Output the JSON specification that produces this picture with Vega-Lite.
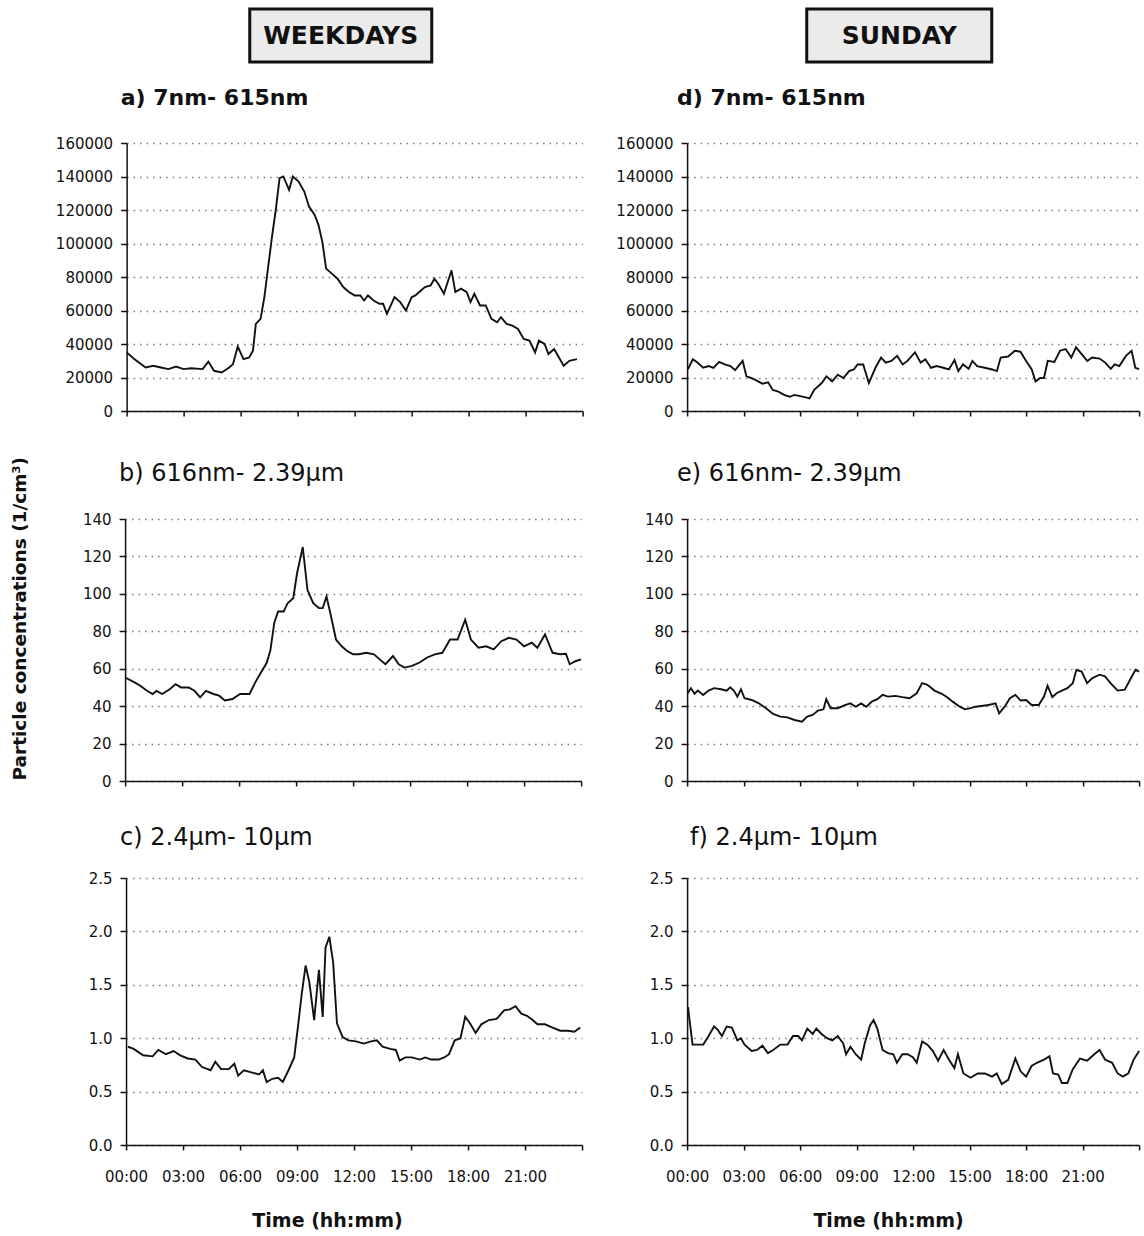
{
"$schema": "https://vega.github.io/schema/vega-lite/v6.json",
"padding": {"left": 10, "top": 7, "right": 0, "bottom": 0},
"background": "white",
"spacing": 27,
"config": {
  "view": {"stroke": null},
  "font": "DejaVu Sans",
  "axis": {"labelFont": "DejaVu Sans", "labelFontSize": 15, "labelColor": "#111", "domainColor": "#111", "domainWidth": 1.5, "tickColor": "#111", "tickWidth": 1.5, "gridColor": "#7a7a7a", "gridDash": [1.5, 5], "gridWidth": 1.5, "titleFont": "DejaVu Sans", "titleColor": "#111", "labelFlush": false, "labelOverlap": false},
  "title": {"font": "DejaVu Sans", "color": "#111"},
  "line": {"color": "#111", "strokeWidth": 1.9}
},
"datasets": {
  "a": [{"h":0,"v":35000},{"h":0.4,"v":31000},{"h":1,"v":26000},{"h":1.4,"v":27000},{"h":1.8,"v":26000},{"h":2.2,"v":25000},{"h":2.6,"v":26500},{"h":3,"v":25000},{"h":3.4,"v":25500},{"h":4,"v":25000},{"h":4.3,"v":29500},{"h":4.6,"v":24000},{"h":5,"v":23000},{"h":5.4,"v":26000},{"h":5.6,"v":28000},{"h":5.85,"v":38500},{"h":6.15,"v":31000},{"h":6.45,"v":32000},{"h":6.65,"v":36000},{"h":6.8,"v":52000},{"h":7.05,"v":55000},{"h":7.25,"v":68000},{"h":7.45,"v":86000},{"h":7.65,"v":104000},{"h":7.85,"v":120000},{"h":8.05,"v":139000},{"h":8.25,"v":140000},{"h":8.55,"v":132000},{"h":8.75,"v":140000},{"h":9.05,"v":137000},{"h":9.35,"v":131000},{"h":9.6,"v":122000},{"h":9.9,"v":117000},{"h":10.1,"v":111000},{"h":10.3,"v":101000},{"h":10.5,"v":85000},{"h":10.8,"v":82000},{"h":11.1,"v":79000},{"h":11.4,"v":74000},{"h":11.7,"v":71000},{"h":12,"v":69000},{"h":12.3,"v":69000},{"h":12.5,"v":66000},{"h":12.7,"v":69000},{"h":13,"v":66000},{"h":13.3,"v":64000},{"h":13.5,"v":64000},{"h":13.7,"v":58000},{"h":14.1,"v":68000},{"h":14.4,"v":65000},{"h":14.7,"v":60000},{"h":15,"v":68000},{"h":15.2,"v":69000},{"h":15.4,"v":71000},{"h":15.7,"v":74000},{"h":16,"v":75000},{"h":16.2,"v":79000},{"h":16.4,"v":76000},{"h":16.7,"v":70000},{"h":16.9,"v":77000},{"h":17.1,"v":84000},{"h":17.3,"v":71000},{"h":17.6,"v":73000},{"h":17.9,"v":71000},{"h":18.1,"v":65000},{"h":18.3,"v":70000},{"h":18.6,"v":63000},{"h":18.9,"v":63000},{"h":19.2,"v":55000},{"h":19.5,"v":53000},{"h":19.7,"v":56000},{"h":20,"v":52000},{"h":20.3,"v":51000},{"h":20.6,"v":49000},{"h":20.9,"v":43000},{"h":21.2,"v":42000},{"h":21.5,"v":35000},{"h":21.7,"v":42000},{"h":22,"v":40000},{"h":22.2,"v":34000},{"h":22.5,"v":37000},{"h":22.8,"v":31000},{"h":23,"v":27000},{"h":23.3,"v":30000},{"h":23.7,"v":31000}],
  "b": [{"h":0,"v":55.3},{"h":0.5,"v":52.7},{"h":0.8,"v":50.9},{"h":1.15,"v":48.2},{"h":1.45,"v":46.5},{"h":1.65,"v":48.2},{"h":1.95,"v":46.5},{"h":2.35,"v":49},{"h":2.65,"v":51.8},{"h":2.95,"v":50},{"h":3.35,"v":50},{"h":3.65,"v":48.2},{"h":3.95,"v":44.7},{"h":4.25,"v":48.2},{"h":4.65,"v":46.5},{"h":4.95,"v":45.6},{"h":5.25,"v":43},{"h":5.65,"v":43.8},{"h":6.05,"v":46.5},{"h":6.55,"v":46.5},{"h":6.85,"v":52.7},{"h":7.15,"v":58},{"h":7.45,"v":63},{"h":7.65,"v":70},{"h":7.85,"v":84.5},{"h":8.05,"v":90.6},{"h":8.35,"v":90.6},{"h":8.55,"v":95},{"h":8.85,"v":97.7},{"h":9.05,"v":111},{"h":9.35,"v":125},{"h":9.6,"v":102},{"h":9.9,"v":95},{"h":10.2,"v":92.4},{"h":10.4,"v":92.4},{"h":10.6,"v":98.6},{"h":10.8,"v":89.8},{"h":11.1,"v":75.6},{"h":11.4,"v":72},{"h":11.7,"v":69.4},{"h":12,"v":67.7},{"h":12.3,"v":67.7},{"h":12.7,"v":68.5},{"h":13.1,"v":67.7},{"h":13.4,"v":65},{"h":13.7,"v":62.4},{"h":14.1,"v":66.8},{"h":14.4,"v":62.4},{"h":14.7,"v":60.6},{"h":15.1,"v":61.5},{"h":15.5,"v":63.3},{"h":15.9,"v":66},{"h":16.3,"v":67.7},{"h":16.7,"v":68.5},{"h":17.1,"v":75.6},{"h":17.5,"v":75.6},{"h":17.9,"v":86.2},{"h":18.2,"v":75.6},{"h":18.6,"v":71.2},{"h":19,"v":72},{"h":19.4,"v":70.3},{"h":19.8,"v":74.7},{"h":20.2,"v":76.5},{"h":20.6,"v":75.6},{"h":21,"v":72},{"h":21.4,"v":73.9},{"h":21.7,"v":71.2},{"h":22.1,"v":78.3},{"h":22.5,"v":68.5},{"h":22.9,"v":67.7},{"h":23.2,"v":68},{"h":23.4,"v":62.4},{"h":23.7,"v":64},{"h":24,"v":65}],
  "c": [{"h":0.1,"v":0.92},{"h":0.4,"v":0.9},{"h":0.9,"v":0.84},{"h":1.4,"v":0.83},{"h":1.7,"v":0.89},{"h":2.1,"v":0.85},{"h":2.5,"v":0.88},{"h":2.85,"v":0.84},{"h":3.25,"v":0.81},{"h":3.65,"v":0.8},{"h":4,"v":0.73},{"h":4.45,"v":0.7},{"h":4.7,"v":0.78},{"h":5,"v":0.71},{"h":5.4,"v":0.71},{"h":5.7,"v":0.76},{"h":5.9,"v":0.65},{"h":6.2,"v":0.7},{"h":6.6,"v":0.68},{"h":7,"v":0.66},{"h":7.2,"v":0.7},{"h":7.4,"v":0.59},{"h":7.7,"v":0.62},{"h":8,"v":0.63},{"h":8.25,"v":0.59},{"h":8.55,"v":0.7},{"h":8.85,"v":0.82},{"h":9.05,"v":1.11},{"h":9.25,"v":1.42},{"h":9.45,"v":1.68},{"h":9.65,"v":1.52},{"h":9.9,"v":1.17},{"h":10.15,"v":1.64},{"h":10.35,"v":1.2},{"h":10.5,"v":1.85},{"h":10.7,"v":1.95},{"h":10.9,"v":1.71},{"h":11.1,"v":1.14},{"h":11.4,"v":1.01},{"h":11.7,"v":0.98},{"h":12.1,"v":0.97},{"h":12.5,"v":0.95},{"h":12.9,"v":0.97},{"h":13.2,"v":0.98},{"h":13.5,"v":0.92},{"h":13.9,"v":0.9},{"h":14.2,"v":0.89},{"h":14.4,"v":0.79},{"h":14.7,"v":0.82},{"h":15.05,"v":0.82},{"h":15.45,"v":0.8},{"h":15.75,"v":0.82},{"h":16.05,"v":0.8},{"h":16.45,"v":0.8},{"h":16.75,"v":0.82},{"h":17,"v":0.85},{"h":17.3,"v":0.98},{"h":17.6,"v":1},{"h":17.85,"v":1.2},{"h":18.1,"v":1.14},{"h":18.4,"v":1.05},{"h":18.7,"v":1.13},{"h":19.1,"v":1.17},{"h":19.5,"v":1.18},{"h":19.9,"v":1.26},{"h":20.2,"v":1.27},{"h":20.5,"v":1.3},{"h":20.8,"v":1.23},{"h":21.1,"v":1.21},{"h":21.4,"v":1.17},{"h":21.65,"v":1.13},{"h":22.05,"v":1.13},{"h":22.45,"v":1.1},{"h":22.85,"v":1.07},{"h":23.25,"v":1.07},{"h":23.6,"v":1.06},{"h":23.9,"v":1.1}],
  "d": [{"h":0.05,"v":25000},{"h":0.3,"v":30900},{"h":0.55,"v":28900},{"h":0.85,"v":25800},{"h":1.15,"v":26800},{"h":1.4,"v":25800},{"h":1.7,"v":29300},{"h":2,"v":27800},{"h":2.3,"v":26800},{"h":2.55,"v":24400},{"h":2.95,"v":29900},{"h":3.15,"v":20700},{"h":3.4,"v":19700},{"h":3.7,"v":18100},{"h":4,"v":16300},{"h":4.3,"v":17100},{"h":4.55,"v":12600},{"h":4.85,"v":11600},{"h":5.15,"v":9600},{"h":5.45,"v":8500},{"h":5.7,"v":9600},{"h":6,"v":8900},{"h":6.3,"v":8100},{"h":6.5,"v":7500},{"h":6.75,"v":12600},{"h":7.15,"v":16700},{"h":7.4,"v":20700},{"h":7.7,"v":17700},{"h":8,"v":21700},{"h":8.3,"v":19700},{"h":8.6,"v":23800},{"h":8.85,"v":24800},{"h":9.05,"v":27800},{"h":9.35,"v":27800},{"h":9.65,"v":16700},{"h":10,"v":25800},{"h":10.3,"v":31900},{"h":10.55,"v":28900},{"h":10.85,"v":29900},{"h":11.15,"v":32900},{"h":11.45,"v":27800},{"h":11.7,"v":29900},{"h":12.1,"v":35000},{"h":12.4,"v":28900},{"h":12.65,"v":30900},{"h":12.95,"v":25800},{"h":13.25,"v":26800},{"h":13.6,"v":25800},{"h":13.9,"v":24800},{"h":14.2,"v":30500},{"h":14.4,"v":23800},{"h":14.65,"v":27800},{"h":14.95,"v":25200},{"h":15.15,"v":29900},{"h":15.4,"v":26800},{"h":15.8,"v":25800},{"h":16.2,"v":24800},{"h":16.45,"v":23800},{"h":16.65,"v":31900},{"h":17.05,"v":32500},{"h":17.4,"v":36000},{"h":17.7,"v":35400},{"h":18,"v":29900},{"h":18.3,"v":24800},{"h":18.5,"v":17700},{"h":18.75,"v":19700},{"h":18.95,"v":19700},{"h":19.15,"v":29900},{"h":19.5,"v":29300},{"h":19.8,"v":36000},{"h":20.1,"v":37000},{"h":20.4,"v":31900},{"h":20.65,"v":38000},{"h":20.95,"v":33900},{"h":21.25,"v":29900},{"h":21.5,"v":31900},{"h":21.9,"v":31300},{"h":22.2,"v":28900},{"h":22.5,"v":25200},{"h":22.7,"v":27800},{"h":22.95,"v":26800},{"h":23.3,"v":32900},{"h":23.6,"v":36000},{"h":23.8,"v":25800},{"h":24,"v":25000}],
  "e": [{"h":0.03,"v":46.9},{"h":0.2,"v":49.6},{"h":0.4,"v":46.6},{"h":0.57,"v":48.3},{"h":0.85,"v":46},{"h":1.14,"v":48.3},{"h":1.43,"v":49.6},{"h":1.81,"v":49},{"h":2.1,"v":48.3},{"h":2.29,"v":50.1},{"h":2.48,"v":48.3},{"h":2.67,"v":45},{"h":2.86,"v":49},{"h":3.05,"v":44.2},{"h":3.43,"v":43.3},{"h":3.81,"v":41.5},{"h":4.19,"v":38.9},{"h":4.57,"v":35.8},{"h":4.95,"v":34.4},{"h":5.33,"v":34},{"h":5.71,"v":32.6},{"h":6.1,"v":31.7},{"h":6.38,"v":34.4},{"h":6.67,"v":35.3},{"h":6.95,"v":37.6},{"h":7.24,"v":38.3},{"h":7.39,"v":43.7},{"h":7.62,"v":38.9},{"h":8,"v":38.9},{"h":8.38,"v":40.6},{"h":8.67,"v":41.5},{"h":8.95,"v":39.7},{"h":9.24,"v":41.5},{"h":9.52,"v":39.7},{"h":9.81,"v":42.4},{"h":10.1,"v":43.7},{"h":10.38,"v":46},{"h":10.67,"v":45.1},{"h":11.05,"v":45.5},{"h":11.43,"v":44.8},{"h":11.81,"v":44.2},{"h":12.19,"v":46.9},{"h":12.48,"v":52.3},{"h":12.76,"v":51.4},{"h":13.14,"v":48.3},{"h":13.52,"v":46.6},{"h":13.81,"v":44.8},{"h":14.1,"v":42.4},{"h":14.48,"v":39.7},{"h":14.76,"v":38.3},{"h":15.05,"v":38.9},{"h":15.33,"v":39.7},{"h":15.62,"v":40.1},{"h":16,"v":40.6},{"h":16.38,"v":41.5},{"h":16.57,"v":36.2},{"h":16.86,"v":39.7},{"h":17.14,"v":44.2},{"h":17.43,"v":46},{"h":17.71,"v":43},{"h":18,"v":43.3},{"h":18.29,"v":40.6},{"h":18.67,"v":40.6},{"h":18.95,"v":45.1},{"h":19.14,"v":50.9},{"h":19.39,"v":44.8},{"h":19.62,"v":46.9},{"h":19.9,"v":48.3},{"h":20.19,"v":49.6},{"h":20.48,"v":52.3},{"h":20.67,"v":59.4},{"h":20.95,"v":58.5},{"h":21.24,"v":52.3},{"h":21.52,"v":55},{"h":21.9,"v":56.8},{"h":22.19,"v":55.9},{"h":22.48,"v":52.3},{"h":22.86,"v":48.3},{"h":23.24,"v":48.8},{"h":23.52,"v":54.1},{"h":23.81,"v":59.4},{"h":24,"v":58.5}],
  "f": [{"h":0.05,"v":1.29},{"h":0.13,"v":1.17},{"h":0.29,"v":0.94},{"h":0.57,"v":0.94},{"h":0.86,"v":0.94},{"h":1.14,"v":1.02},{"h":1.43,"v":1.11},{"h":1.62,"v":1.08},{"h":1.85,"v":1.02},{"h":2.1,"v":1.11},{"h":2.38,"v":1.1},{"h":2.67,"v":0.98},{"h":2.86,"v":1},{"h":3.05,"v":0.94},{"h":3.43,"v":0.88},{"h":3.71,"v":0.89},{"h":4,"v":0.93},{"h":4.29,"v":0.86},{"h":4.57,"v":0.89},{"h":4.95,"v":0.94},{"h":5.33,"v":0.94},{"h":5.62,"v":1.02},{"h":5.9,"v":1.02},{"h":6.1,"v":0.98},{"h":6.38,"v":1.09},{"h":6.67,"v":1.04},{"h":6.86,"v":1.09},{"h":7.14,"v":1.04},{"h":7.43,"v":1},{"h":7.71,"v":0.98},{"h":8,"v":1.02},{"h":8.29,"v":0.95},{"h":8.44,"v":0.85},{"h":8.67,"v":0.92},{"h":8.95,"v":0.85},{"h":9.24,"v":0.8},{"h":9.43,"v":0.95},{"h":9.71,"v":1.12},{"h":9.9,"v":1.17},{"h":10.1,"v":1.09},{"h":10.38,"v":0.89},{"h":10.67,"v":0.86},{"h":10.95,"v":0.85},{"h":11.14,"v":0.77},{"h":11.43,"v":0.85},{"h":11.71,"v":0.85},{"h":12,"v":0.82},{"h":12.19,"v":0.77},{"h":12.48,"v":0.97},{"h":12.76,"v":0.94},{"h":13.05,"v":0.88},{"h":13.33,"v":0.79},{"h":13.62,"v":0.89},{"h":13.9,"v":0.8},{"h":14.19,"v":0.72},{"h":14.38,"v":0.85},{"h":14.67,"v":0.67},{"h":15.05,"v":0.63},{"h":15.43,"v":0.67},{"h":15.81,"v":0.67},{"h":16.19,"v":0.64},{"h":16.44,"v":0.67},{"h":16.71,"v":0.57},{"h":17.05,"v":0.61},{"h":17.43,"v":0.81},{"h":17.71,"v":0.69},{"h":18,"v":0.64},{"h":18.29,"v":0.74},{"h":18.57,"v":0.77},{"h":18.95,"v":0.8},{"h":19.24,"v":0.83},{"h":19.43,"v":0.67},{"h":19.71,"v":0.66},{"h":19.9,"v":0.58},{"h":20.19,"v":0.58},{"h":20.48,"v":0.71},{"h":20.86,"v":0.81},{"h":21.24,"v":0.79},{"h":21.62,"v":0.85},{"h":21.9,"v":0.89},{"h":22.19,"v":0.8},{"h":22.57,"v":0.77},{"h":22.86,"v":0.67},{"h":23.14,"v":0.64},{"h":23.43,"v":0.67},{"h":23.71,"v":0.8},{"h":24,"v":0.88}]
},
"hconcat": [
  {
    "title": {"text": "Particle concentrations (1/cm³)", "orient": "left", "anchor": "middle", "fontSize": 18.5, "fontWeight": "bold", "offset": 21},
    "spacing": 23,
    "center": true,
    "vconcat": [
      {"width": 182, "height": 53, "data": {"values": [{"label": "WEEKDAYS"}]},
       "view": {"fill": "#ebebeb", "stroke": "#111", "strokeWidth": 3},
       "mark": {"type": "text", "fontSize": 25, "fontWeight": "bold", "color": "#111"},
       "encoding": {"text": {"field": "label"}, "y": {"field": "label", "type": "nominal", "axis": {"orient": "right", "labels": false, "ticks": false, "domain": false, "grid": false, "title": null, "minExtent": 27, "maxExtent": 27}}}},
      {"width": 456, "height": 268, "data": {"name": "a"},
       "title": {"text": "a) 7nm- 615nm", "anchor": "start", "frame": "group", "fontSize": 22, "fontWeight": "bold", "offset": 9, "baseline": "alphabetic", "dx": -6},
       "mark": "line",
       "encoding": {
         "x": {"field": "h", "type": "quantitative", "scale": {"domain": [0, 24], "nice": false}, "axis": {"values": [0,3,6,9,12,15,18,21,24], "labels": false, "grid": false, "title": null, "tickSize": 5, "minExtent": 28}},
         "y": {"field": "v", "type": "quantitative", "scale": {"domain": [0, 160000], "nice": false}, "axis": {"values": [0,20000,40000,60000,80000,100000,120000,140000,160000], "format": "d", "grid": true, "tickSize": 6, "labelPadding": 8, "minExtent": 75, "title": null}}}},
      {"width": 456, "height": 262, "data": {"name": "b"},
       "title": {"text": "b) 616nm- 2.39µm", "anchor": "start", "frame": "group", "fontSize": 24, "fontWeight": "normal", "offset": 7, "baseline": "alphabetic", "dx": -6},
       "mark": "line",
       "encoding": {
         "x": {"field": "h", "type": "quantitative", "scale": {"domain": [0, 24], "nice": false}, "axis": {"values": [0,3,6,9,12,15,18,21,24], "labels": false, "grid": false, "title": null, "tickSize": 5, "minExtent": 22}},
         "y": {"field": "v", "type": "quantitative", "scale": {"domain": [0, 140], "nice": false}, "axis": {"values": [0,20,40,60,80,100,120,140], "grid": true, "tickSize": 6, "labelPadding": 8, "minExtent": 75, "title": null}}}},
      {"width": 456, "height": 267, "data": {"name": "c"},
       "title": {"text": "c) 2.4µm- 10µm", "anchor": "start", "frame": "group", "fontSize": 24, "fontWeight": "normal", "offset": 2, "baseline": "alphabetic", "dx": -6},
       "mark": "line",
       "encoding": {
         "x": {"field": "h", "type": "quantitative", "scale": {"domain": [0, 24], "nice": false}, "axis": {"values": [0,3,6,9,12,15,18,21,24], "labelExpr": "datum.value >= 24 ? '' : (datum.value < 10 ? '0' : '') + datum.value + ':00'", "grid": false, "title": "Time (hh:mm)", "titleFontSize": 19, "titleFontWeight": "bold", "titlePadding": 27, "titleX": 201, "tickSize": 5, "labelPadding": 19}},
         "y": {"field": "v", "type": "quantitative", "scale": {"domain": [0, 2.5], "nice": false}, "axis": {"values": [0,0.5,1,1.5,2,2.5], "format": ".1f", "grid": true, "tickSize": 6, "labelPadding": 8, "minExtent": 75, "title": null}}}}
    ]
  },
  {
    "spacing": 23,
    "center": true,
    "vconcat": [
      {"width": 185, "height": 53, "data": {"values": [{"label": "SUNDAY"}]},
       "view": {"fill": "#ebebeb", "stroke": "#111", "strokeWidth": 3},
       "mark": {"type": "text", "fontSize": 25, "fontWeight": "bold", "color": "#111"},
       "encoding": {"text": {"field": "label"}, "y": {"field": "label", "type": "nominal", "axis": {"orient": "right", "labels": false, "ticks": false, "domain": false, "grid": false, "title": null, "minExtent": 30, "maxExtent": 30}}}},
      {"width": 452, "height": 268, "data": {"name": "d"},
       "title": {"text": "d) 7nm- 615nm", "anchor": "start", "frame": "group", "fontSize": 22, "fontWeight": "bold", "offset": 9, "baseline": "alphabetic", "dx": -10},
       "mark": "line",
       "encoding": {
         "x": {"field": "h", "type": "quantitative", "scale": {"domain": [0, 24], "nice": false}, "axis": {"values": [0,3,6,9,12,15,18,21,24], "labels": false, "grid": false, "title": null, "tickSize": 5, "minExtent": 28}},
         "y": {"field": "v", "type": "quantitative", "scale": {"domain": [0, 160000], "nice": false}, "axis": {"values": [0,20000,40000,60000,80000,100000,120000,140000,160000], "format": "d", "grid": true, "tickSize": 6, "labelPadding": 8, "minExtent": 75, "title": null}}}},
      {"width": 452, "height": 262, "data": {"name": "e"},
       "title": {"text": "e) 616nm- 2.39µm", "anchor": "start", "frame": "group", "fontSize": 24, "fontWeight": "normal", "offset": 7, "baseline": "alphabetic", "dx": -10},
       "mark": "line",
       "encoding": {
         "x": {"field": "h", "type": "quantitative", "scale": {"domain": [0, 24], "nice": false}, "axis": {"values": [0,3,6,9,12,15,18,21,24], "labels": false, "grid": false, "title": null, "tickSize": 5, "minExtent": 22}},
         "y": {"field": "v", "type": "quantitative", "scale": {"domain": [0, 140], "nice": false}, "axis": {"values": [0,20,40,60,80,100,120,140], "grid": true, "tickSize": 6, "labelPadding": 8, "minExtent": 75, "title": null}}}},
      {"width": 452, "height": 267, "data": {"name": "f"},
       "title": {"text": "f) 2.4µm- 10µm", "anchor": "start", "frame": "group", "fontSize": 24, "fontWeight": "normal", "offset": 2, "baseline": "alphabetic", "dx": 3},
       "mark": "line",
       "encoding": {
         "x": {"field": "h", "type": "quantitative", "scale": {"domain": [0, 24], "nice": false}, "axis": {"values": [0,3,6,9,12,15,18,21,24], "labelExpr": "datum.value >= 24 ? '' : (datum.value < 10 ? '0' : '') + datum.value + ':00'", "grid": false, "title": "Time (hh:mm)", "titleFontSize": 19, "titleFontWeight": "bold", "titlePadding": 27, "titleX": 201, "tickSize": 5, "labelPadding": 19}},
         "y": {"field": "v", "type": "quantitative", "scale": {"domain": [0, 2.5], "nice": false}, "axis": {"values": [0,0.5,1,1.5,2,2.5], "format": ".1f", "grid": true, "tickSize": 6, "labelPadding": 8, "minExtent": 75, "title": null}}}}
    ]
  }
]
}
